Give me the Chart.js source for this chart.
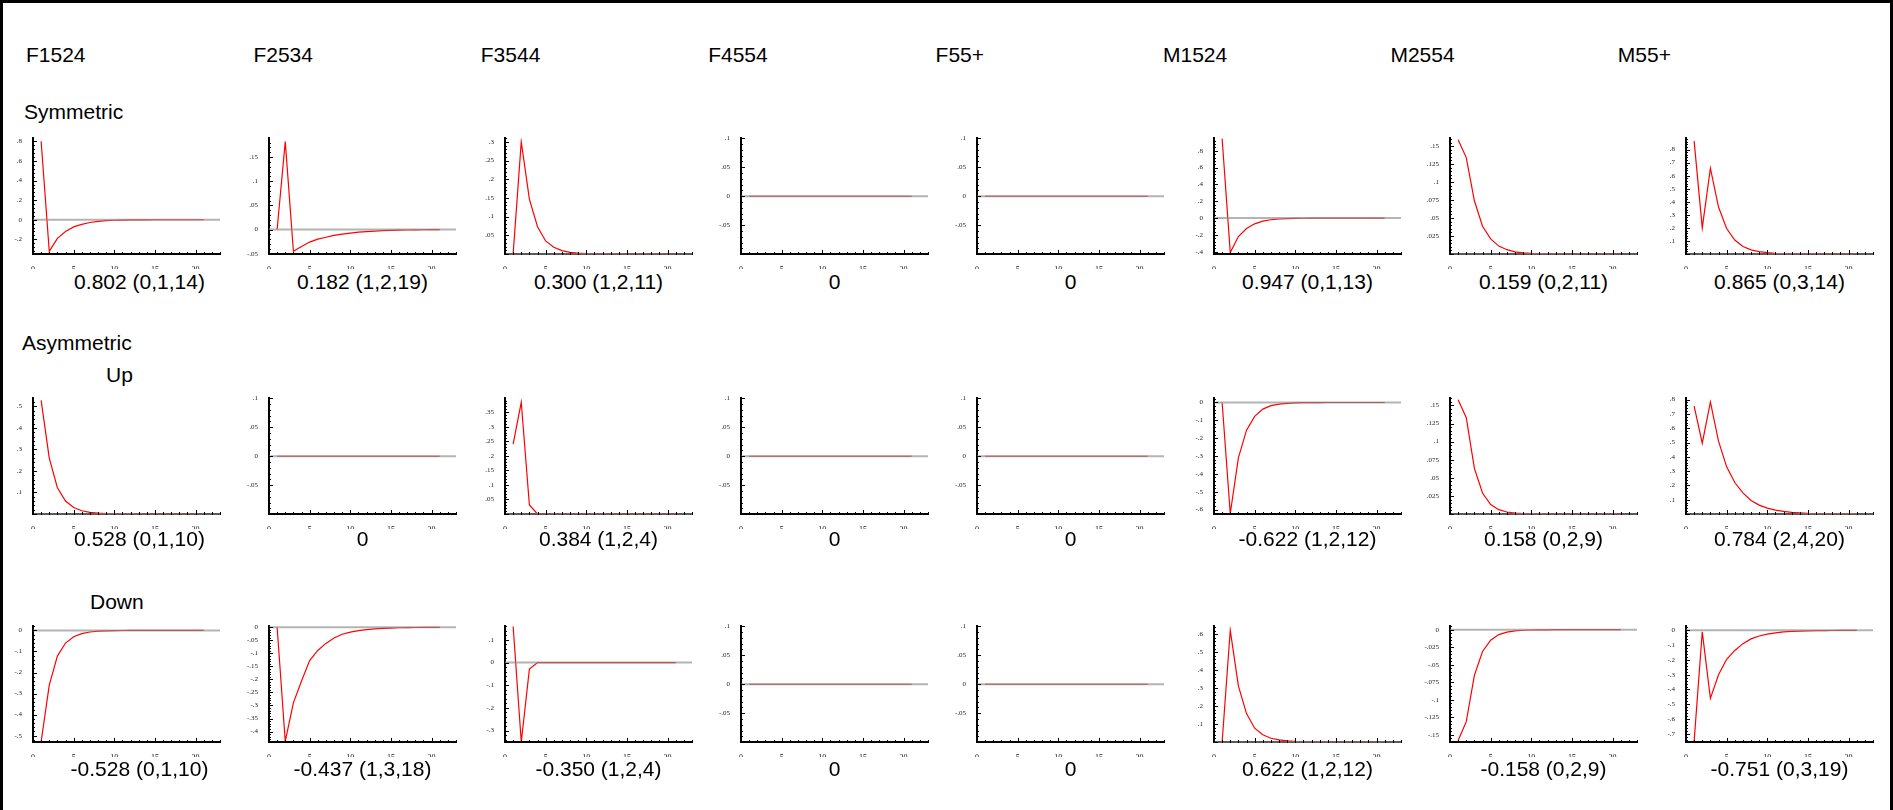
<!DOCTYPE html>
<html>
<head>
<meta charset="utf-8">
<script src="https://cdn.jsdelivr.net/npm/chart.js@4.4.1/dist/chart.umd.min.js"></script>
<style>
  body { margin: 0; background: #fff; }
  #frame { position: absolute; left: 0; top: 0; width: 1893px; height: 810px; box-sizing: border-box;
           border-top: 3px solid #000; border-left: 3px solid #000; border-right: 3px solid #000; }
  .txt { position: absolute; font-family: "Liberation Sans", Arial, sans-serif; font-size: 21px; color: #000;
         white-space: nowrap; line-height: 1; }
  canvas { position: absolute; }
</style>
</head>
<body>
<div id="frame"></div>
<script>
// --- data ---
const groups = ['F1524', 'F2534', 'F3544', 'F4554', 'F55+', 'M1524', 'M2554', 'M55+'];
const lags = [1, 2, 3, 4, 5, 6, 7, 8, 9, 10, 11, 12, 13, 14, 15, 16, 17, 18, 19, 20, 21];
const xTicks = [0, 5, 10, 15, 20];

// Symmetric
const symF1524 = [0.802, -0.323, -0.19, -0.12, -0.073, -0.047, -0.028, -0.016, -0.009, -0.005, -0.003, -0.002, -0.001, -0.001, 0, 0, 0, 0, 0, 0, 0];
const symF2534 = [0, 0.182, -0.045, -0.035, -0.026, -0.02, -0.016, -0.012, -0.0095, -0.0074, -0.0055, -0.0042, -0.0032, -0.0024, -0.0018, -0.0013, -0.001, -0.0007, -0.0005, -0.0003, -0.0002];
const symF3544 = [0, 0.300, 0.147, 0.073, 0.035, 0.018, 0.009, 0.0045, 0.0022, 0.0011, 0.0005, 0.0003, 0.0001, 0, 0, 0, 0, 0, 0, 0, 0];
const symF4554 = [0, 0, 0, 0, 0, 0, 0, 0, 0, 0, 0, 0, 0, 0, 0, 0, 0, 0, 0, 0, 0];
const symF55 = [0, 0, 0, 0, 0, 0, 0, 0, 0, 0, 0, 0, 0, 0, 0, 0, 0, 0, 0, 0, 0];
const symM1524 = [0.947, -0.41, -0.22, -0.125, -0.068, -0.037, -0.02, -0.011, -0.006, -0.003, -0.002, -0.001, -0.001, 0, 0, 0, 0, 0, 0, 0, 0];
const symM2554 = [0.159, 0.134, 0.074, 0.0386, 0.021, 0.011, 0.006, 0.003, 0.0016, 0.0008, 0.0004, 0.0002, 0.0001, 0, 0, 0, 0, 0, 0, 0, 0];
const symM55 = [0.865, 0.2, 0.657, 0.36, 0.195, 0.107, 0.057, 0.032, 0.018, 0.01, 0.0055, 0.003, 0.0016, 0.0009, 0.0005, 0.0003, 0.0001, 0, 0, 0, 0];

// Asymmetric up
const upF1524 = [0.528, 0.26, 0.122, 0.06, 0.03, 0.015, 0.0075, 0.0037, 0.0018, 0.0009, 0.0004, 0.0002, 0.0001, 0, 0, 0, 0, 0, 0, 0, 0];
const upF2534 = [0, 0, 0, 0, 0, 0, 0, 0, 0, 0, 0, 0, 0, 0, 0, 0, 0, 0, 0, 0, 0];
const upF3544 = [0.24, 0.384, 0.031, 0, 0, 0, 0, 0, 0, 0, 0, 0, 0, 0, 0, 0, 0, 0, 0, 0, 0];
const upF4554 = [0, 0, 0, 0, 0, 0, 0, 0, 0, 0, 0, 0, 0, 0, 0, 0, 0, 0, 0, 0, 0];
const upF55 = [0, 0, 0, 0, 0, 0, 0, 0, 0, 0, 0, 0, 0, 0, 0, 0, 0, 0, 0, 0, 0];
const upM1524 = [0, -0.622, -0.31, -0.155, -0.078, -0.037, -0.018, -0.009, -0.0045, -0.0023, -0.0012, -0.0006, -0.0003, -0.0001, 0, 0, 0, 0, 0, 0, 0];
const upM2554 = [0.158, 0.133, 0.063, 0.029, 0.013, 0.006, 0.0028, 0.0013, 0.0006, 0.0003, 0.0001, 0, 0, 0, 0, 0, 0, 0, 0, 0, 0];
const upM55 = [0.755, 0.495, 0.784, 0.51, 0.33, 0.22, 0.148, 0.095, 0.062, 0.041, 0.027, 0.018, 0.012, 0.008, 0.005, 0.0035, 0.0023, 0.0015, 0.001, 0.0007, 0.0004];

// Asymmetric down
const downF1524 = [-0.528, -0.26, -0.122, -0.06, -0.03, -0.015, -0.0075, -0.0037, -0.0018, -0.0009, -0.0004, -0.0002, -0.0001, 0, 0, 0, 0, 0, 0, 0, 0];
const downF2534 = [0, -0.437, -0.29, -0.206, -0.128, -0.089, -0.062, -0.041, -0.027, -0.019, -0.013, -0.009, -0.006, -0.004, -0.003, -0.002, -0.0013, -0.0009, -0.0006, -0.0004, -0.0003];
const downF3544 = [0.16, -0.35, -0.029, 0, 0, 0, 0, 0, 0, 0, 0, 0, 0, 0, 0, 0, 0, 0, 0, 0, 0];
const downF4554 = [0, 0, 0, 0, 0, 0, 0, 0, 0, 0, 0, 0, 0, 0, 0, 0, 0, 0, 0, 0, 0];
const downF55 = [0, 0, 0, 0, 0, 0, 0, 0, 0, 0, 0, 0, 0, 0, 0, 0, 0, 0, 0, 0, 0];
const downM1524 = [0, 0.622, 0.313, 0.158, 0.077, 0.04, 0.021, 0.012, 0.006, 0.003, 0.0015, 0.0008, 0.0004, 0.0002, 0.0001, 0, 0, 0, 0, 0, 0];
const downM2554 = [-0.158, -0.131, -0.065, -0.031, -0.015, -0.007, -0.0035, -0.0017, -0.0008, -0.0004, -0.0002, -0.0001, 0, 0, 0, 0, 0, 0, 0, 0, 0];
const downM55 = [-0.751, -0.01, -0.46, -0.3, -0.196, -0.136, -0.09, -0.058, -0.038, -0.026, -0.017, -0.011, -0.0075, -0.005, -0.0033, -0.0022, -0.0015, -0.001, -0.0006, -0.0003, -0.0001];

// y ranges [min, max, step] per panel
const symRanges = [[-0.35, 0.833, 0.2], [-0.0507, 0.189, 0.05], [0, 0.31, 0.05], [-0.0995, 0.1, 0.05],
                   [-0.0995, 0.1, 0.05], [-0.427, 0.95, 0.2], [0, 0.161, 0.025], [0, 0.887, 0.1]];
const upRanges = [[0, 0.538, 0.1], [-0.0995, 0.1, 0.05], [0, 0.398, 0.05], [-0.0995, 0.1, 0.05],
                  [-0.0995, 0.1, 0.05], [-0.625, 0.024, 0.1], [0, 0.16, 0.025], [0, 0.81, 0.1]];
const downRanges = [[-0.53, 0.02, 0.1], [-0.44, 0.004, 0.05], [-0.35, 0.16, 0.1], [-0.0995, 0.1, 0.05],
                    [-0.0995, 0.1, 0.05], [0, 0.645, 0.1], [-0.16, 0.005, 0.025], [-0.755, 0.028, 0.1]];

const symCaptions = ['0.802 (0,1,14)', '0.182 (1,2,19)', '0.300 (1,2,11)', '0', '0', '0.947 (0,1,13)', '0.159 (0,2,11)', '0.865 (0,3,14)'];
const upCaptions = ['0.528 (0,1,10)', '0', '0.384 (1,2,4)', '0', '0', '-0.622 (1,2,12)', '0.158 (0,2,9)', '0.784 (2,4,20)'];
const downCaptions = ['-0.528 (0,1,10)', '-0.437 (1,3,18)', '-0.350 (1,2,4)', '0', '0', '0.622 (1,2,12)', '-0.158 (0,2,9)', '-0.751 (0,3,19)'];

const rows = [
  { series: [symF1524, symF2534, symF3544, symF4554, symF55, symM1524, symM2554, symM55], ranges: symRanges, captions: symCaptions },
  { series: [upF1524, upF2534, upF3544, upF4554, upF55, upM1524, upM2554, upM55], ranges: upRanges, captions: upCaptions },
  { series: [downF1524, downF2534, downF3544, downF4554, downF55, downM1524, downM2554, downM55], ranges: downRanges, captions: downCaptions }
];

// --- layout ---
const PLOT_W = 187, PLOT_H = 118;
const AXIS_W = 26, PAD_TOP = 5, PAD_RIGHT = 6, X_AXIS_H = 15;
const rowTops = [136, 396, 624];
const captionY = [281, 538, 768];
const yTickFont = { family: '"Liberation Serif", "DejaVu Serif", serif', size: 7 };
const xTickFont = { family: '"Liberation Serif", "DejaVu Serif", serif', size: 8 };

function addText(str, x, y, center) {
  const d = document.createElement('div');
  d.className = 'txt';
  d.textContent = str;
  d.style.left = x + 'px';
  d.style.top = y + 'px';
  if (center) d.style.transform = 'translate(-50%, -50%)';
  else d.style.transform = 'translateY(-50%)';
  document.body.appendChild(d);
}

groups.forEach((g, i) => addText(g, 26 + 227.4 * i, 54));
addText('Symmetric', 24, 111);
addText('Asymmetric', 22, 342);
addText('Up', 106, 374);
addText('Down', 90, 601);

function fmt(v) {
  if (Math.abs(v) < 1e-9) return '0';
  return String(+v.toFixed(4)).replace(/^(-?)0\./, '$1.');
}

// zero line drawn over the data, plus Mathematica-like tick marks
const axisMarks = {
  id: 'axisMarks',
  afterDatasetsDraw(chart) {
    const { ctx, chartArea: a, scales: { y } } = chart;
    const py = y.getPixelForValue(0);
    ctx.save();
    ctx.strokeStyle = 'rgba(140,140,140,0.65)';
    ctx.lineWidth = 2;
    ctx.beginPath();
    ctx.moveTo(a.left, py);
    ctx.lineTo(a.right, py);
    ctx.stroke();
    ctx.restore();
  },
  afterDraw(chart) {
    const { ctx, chartArea: a, scales: { x, y } } = chart;
    ctx.save();
    ctx.strokeStyle = '#000';
    ctx.lineWidth = 1;
    ctx.beginPath();
    for (let v = 0; v <= 23; v++) {
      const px = Math.round(x.getPixelForValue(v)) + 0.5;
      const len = v % 5 === 0 ? 4 : 2;
      ctx.moveTo(px, a.bottom + 1);
      ctx.lineTo(px, a.bottom - len);
    }
    const st = y.options.ticks.stepSize / 5;
    for (let k = Math.ceil(y.min / st - 1e-6); k * st <= y.max + 1e-9; k++) {
      const py = Math.round(y.getPixelForValue(k * st)) + 0.5;
      const len = k % 5 === 0 ? 4 : 2;
      ctx.moveTo(a.left - 1, py);
      ctx.lineTo(a.left + len, py);
    }
    ctx.stroke();
    ctx.restore();
  }
};

rows.forEach((row, r) => {
  row.series.forEach((vals, i) => {
    const left = Math.round(33 + 236.1 * i);
    const top = rowTops[r];
    const [yMin, yMax, yStep] = row.ranges[i];

    const cv = document.createElement('canvas');
    cv.width = AXIS_W + PLOT_W + PAD_RIGHT;
    cv.height = PAD_TOP + PLOT_H + X_AXIS_H;
    cv.style.left = (left - AXIS_W) + 'px';
    cv.style.top = (top - PAD_TOP) + 'px';
    document.body.appendChild(cv);

    new Chart(cv, {
      type: 'line',
      data: {
        datasets: [{
          data: lags.map((x, k) => ({ x: x, y: vals[k] })),
          borderColor: '#ff0000',
          borderWidth: 1.2,
          pointRadius: 0,
          tension: 0
        }]
      },
      options: {
        responsive: false,
        animation: false,
        devicePixelRatio: 1,
        layout: { padding: { top: PAD_TOP, right: PAD_RIGHT, left: 0, bottom: 0 } },
        plugins: { legend: { display: false }, tooltip: { enabled: false } },
        scales: {
          x: {
            type: 'linear', min: 0, max: 23,
            afterBuildTicks: s => { s.ticks = xTicks.map(v => ({ value: v })); },
            afterFit: s => { s.height = X_AXIS_H; },
            grid: { display: false },
            border: { display: true, color: '#000', width: 2 },
            ticks: { font: xTickFont, color: '#111', padding: 3, maxRotation: 0, autoSkip: false, callback: v => String(v) }
          },
          y: {
            type: 'linear', min: yMin, max: yMax,
            afterBuildTicks: s => {
              const out = [];
              for (let k = Math.ceil(s.min / yStep - 1e-6); k * yStep <= s.max + 1e-9; k++) {
                const v = +(k * yStep).toFixed(4);
                if (v === 0 && s.min === 0) continue;
                out.push({ value: v });
              }
              s.ticks = out;
            },
            afterFit: s => { s.width = AXIS_W; },
            grid: { display: false },
            border: { display: true, color: '#000', width: 2 },
            ticks: { stepSize: yStep, font: yTickFont, color: '#222', padding: 3, autoSkip: false, callback: v => fmt(v) }
          }
        }
      },
      plugins: [axisMarks]
    });

    // first column's caption sits a little right of the plot centre in the reference
    const shift = i === 0 ? 13 : 0;
    addText(row.captions[i], left + PLOT_W / 2 + shift, captionY[r], true);
  });
});
</script>
</body>
</html>
